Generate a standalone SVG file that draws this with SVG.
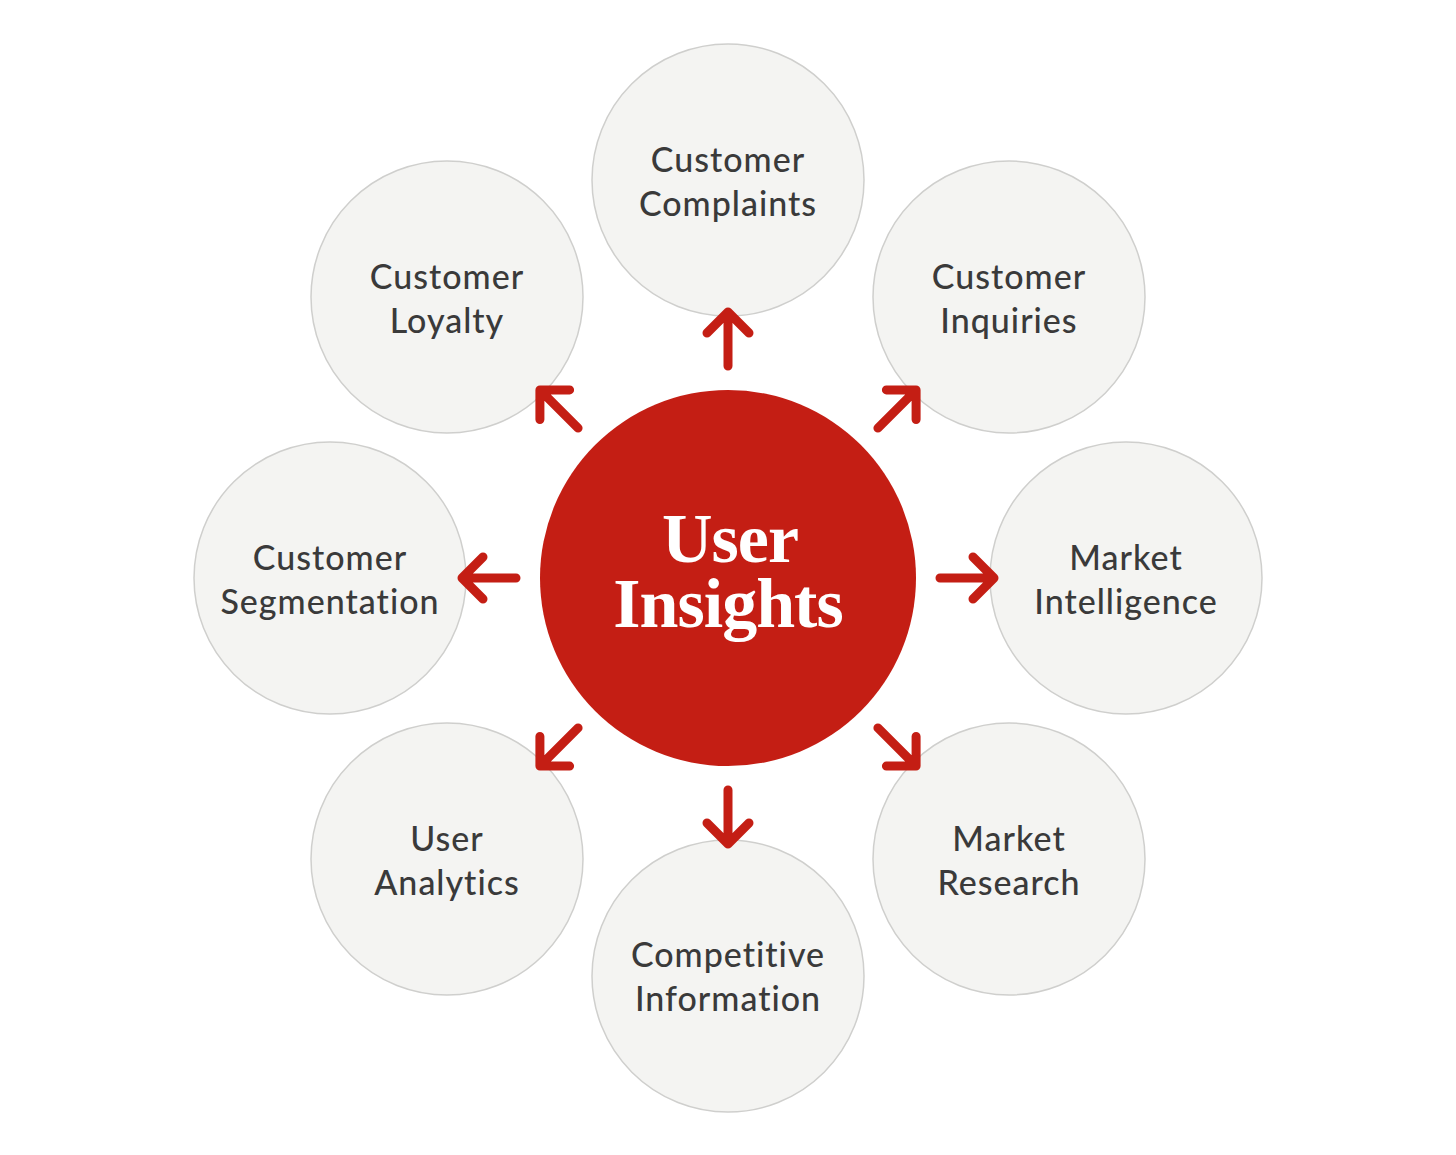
<svg xmlns="http://www.w3.org/2000/svg" width="1456" height="1155" viewBox="0 0 1456 1155">
<style>
.n{fill:#f4f4f2;stroke:#cfcfcd;stroke-width:1.5}
.t{font-family:Lato,"Liberation Sans",sans-serif;font-size:34px;fill:#3a3a3a;text-anchor:middle;font-weight:500;letter-spacing:1px}
.a{fill:none;stroke:#c41e14;stroke-width:9;stroke-linecap:round;stroke-linejoin:round}
.c{font-family:'Liberation Serif',serif;font-weight:bold;font-size:70px;fill:#fff;text-anchor:middle;letter-spacing:-1px}
</style>
<rect width="1456" height="1155" fill="#fff"/>
<g id="top"><circle class="n" cx="728" cy="180" r="136"/><text class="t" x="728" y="172">Customer</text><text class="t" x="728" y="216">Complaints</text></g>
<g id="inq"><circle class="n" cx="1009" cy="297" r="136"/><text class="t" x="1009" y="289">Customer</text><text class="t" x="1009" y="333">Inquiries</text></g>
<g id="mi"><circle class="n" cx="1126" cy="578" r="136"/><text class="t" x="1126" y="570">Market</text><text class="t" x="1126" y="614">Intelligence</text></g>
<g id="mr"><circle class="n" cx="1009" cy="859" r="136"/><text class="t" x="1009" y="851">Market</text><text class="t" x="1009" y="895">Research</text></g>
<g id="ci"><circle class="n" cx="728" cy="976" r="136"/><text class="t" x="728" y="967">Competitive</text><text class="t" x="728" y="1011">Information</text></g>
<g id="ua"><circle class="n" cx="447" cy="859" r="136"/><text class="t" x="447" y="851">User</text><text class="t" x="447" y="895">Analytics</text></g>
<g id="cs"><circle class="n" cx="330" cy="578" r="136"/><text class="t" x="330" y="570">Customer</text><text class="t" x="330" y="614">Segmentation</text></g>
<g id="cl"><circle class="n" cx="447" cy="297" r="136"/><text class="t" x="447" y="289">Customer</text><text class="t" x="447" y="333">Loyalty</text></g>
<g id="connectors">
<g id="arr"><path class="a" d="M728 366V314M707 333L728 312L749 333"/></g>
<use href="#arr" transform="rotate(45 728 578)"/>
<use href="#arr" transform="rotate(90 728 578)"/>
<use href="#arr" transform="rotate(135 728 578)"/>
<use href="#arr" transform="rotate(180 728 578)"/>
<use href="#arr" transform="rotate(225 728 578)"/>
<use href="#arr" transform="rotate(270 728 578)"/>
<use href="#arr" transform="rotate(315 728 578)"/>
</g>
<g id="center"><circle cx="728" cy="578" r="188" fill="#c41e14"/>
<text class="c" x="730" y="562">User</text>
<text class="c" x="728" y="627">Insights</text></g>
</svg>
